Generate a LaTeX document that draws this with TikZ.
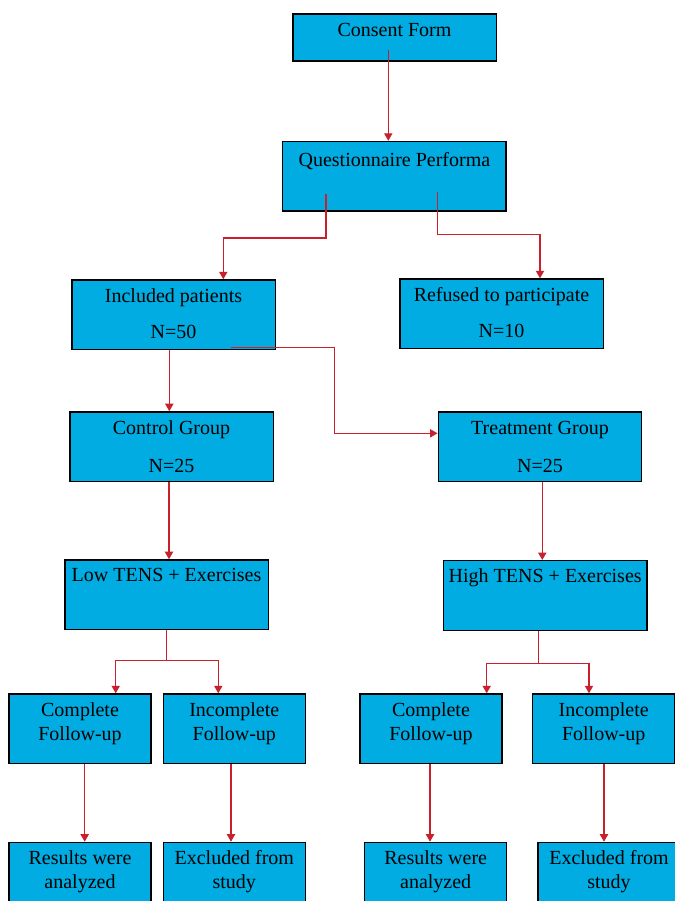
\documentclass[tikz,border=0pt]{standalone}
\usepackage{fontspec}
\setmainfont{Liberation Serif}
\usetikzlibrary{arrows.meta,calc}
\definecolor{boxblue}{RGB}{0,172,226}
\definecolor{flowred}{RGB}{200,32,44}
\tikzset{
  box/.style={draw=black, line width=1.1pt, fill=boxblue, inner sep=0pt,
    minimum width=152.6pt, minimum height=52.2pt},
  smallbox/.style={box, minimum width=106.5pt},
  txt/.style={anchor=base, align=center, inner sep=0pt,
    font=\fontsize{15}{17.5}\selectfont},
  flow/.style={draw=flowred, line width=0.8pt, -{Triangle[width=6.2pt,length=5.6pt]}}
}
\begin{document}
\begin{tikzpicture}[x=0.75pt, y=-0.75pt]
    \useasboundingbox[fill=white] (0,0) rectangle (675,901);

    % Screening
    \node[box, minimum height=35.2pt] (consent) at (394.5,37.5) {};
    \node[txt] (consent-t) at (394.5,36) {Consent Form};
    \node[box, minimum width=167.6pt] (quest) at (394.2,176.3) {};
    \node[txt] (quest-t) at (394.4,166) {Questionnaire Performa};

    % Enrolment (base = last line)
    \node[box] (incl) at (173.5,314.8) {};
    \node[txt] (incl-t) at (173.5,338) {Included patients\\[8.8pt]N=50};
    \node[box] (refused) at (501.5,313.8) {};
    \node[txt] (refused-t) at (501.5,337.3) {Refused to participate\\[9.7pt]N=10};

    % Allocation
    \node[box] (control) at (171.5,446.7) {};
    \node[txt] (control-t) at (171.5,472) {Control Group\\[11pt]N=25};
    \node[box] (treat) at (540,446.7) {};
    \node[txt] (treat-t) at (540,472.7) {Treatment Group\\[11.5pt]N=25};

    % Intervention
    \node[box] (low) at (166.5,594.7) {};
    \node[txt] (low-t) at (166.5,581.7) {Low TENS + Exercises};
    \node[box] (high) at (545.2,595.5) {};
    \node[txt] (high-t) at (545.2,582.7) {High TENS + Exercises};

    % Follow-up
    \node[smallbox] (compL) at (80,728.8) {};
    \node[txt] (compL-t) at (80,740) {Complete\\Follow-up};
    \node[smallbox] (incL) at (234.3,728.8) {};
    \node[txt] (incL-t) at (234.3,740) {Incomplete\\Follow-up};
    \node[smallbox] (compR) at (431,728.8) {};
    \node[txt] (compR-t) at (431,740) {Complete\\Follow-up};
    \node[smallbox] (incR) at (603.7,728.8) {};
    \node[txt] (incR-t) at (603.7,740) {Incomplete\\Follow-up};

    % Analysis
    \node[smallbox] (resL) at (80,877.2) {};
    \node[txt] (resL-t) at (80,888.3) {Results were\\analyzed};
    \node[smallbox] (exL) at (234.3,877.2) {};
    \node[txt] (exL-t) at (234.3,888.3) {Excluded from\\study};
    \node[smallbox] (resR) at (435.7,877.2) {};
    \node[txt] (resR-t) at (435.7,888.3) {Results were\\analyzed};
    \node[smallbox] (exR) at (609,877.2) {};
    \node[txt] (exR-t) at (609,888.3) {Excluded from\\study};

    % Connectors
    \draw[flow] ($(consent)+(-6.2,12.5)$) coordinate (c0) -- (c0 |- quest.north);
    \draw[flow] ($(quest)+(-68.2,18)$) |- ($(incl.north)+(49.8,-41.3)$) -- ($(incl.north)+(49.8,0)$);
    \draw[flow] ($(quest)+(43.1,15.4)$) |- ($(refused.north)+(38.5,-43.6)$) -- ($(refused.north)+(38.5,0)$);
    \draw[flow] ($(incl.south)+(-4.2,0)$) coordinate (c1) -- (c1 |- control.north);
    \draw[flow] ($(incl)+(57.5,32.5)$) -| ($(treat.west)+(-103,-13.4)$) -- ($(treat.west)+(0,-13.4)$);
    \draw[flow] ($(control.south)+(-2.5,0)$) coordinate (c2) -- (c2 |- low.north);
    \draw[flow] ($(treat.south)+(2.3,0)$) coordinate (c3) -- (c3 |- high.north);

    \coordinate (lowsplit) at ($(low.south)+(0.2,30.7)$);
    \draw[flow] ($(low.south)+(0.2,0)$) -- (lowsplit) -| ($(compL.north)+(35.7,0)$);
    \draw[flow] (lowsplit) -| ($(incL.north)+(-16,0)$);
    \coordinate (highsplit) at ($(high.south)+(-6.9,32.3)$);
    \draw[flow] ($(high.south)+(-6.9,0)$) -- (highsplit) -| ($(compR.north)+(55.7,0)$);
    \draw[flow] (highsplit) -| ($(incR.north)+(-14.7,0)$);

    \draw[flow] ($(compL.south)+(4.7,0)$) coordinate (c4) -- (c4 |- resL.north);
    \draw[flow] ($(incL.south)+(-3.3,0)$) coordinate (c5) -- (c5 |- exL.north);
    \draw[flow] ($(compR.south)+(-1,0)$) coordinate (c6) -- (c6 |- resR.north);
    \draw[flow] ($(incR.south)+(0.3,0)$) coordinate (c7) -- (c7 |- exR.north);
\end{tikzpicture}
\end{document}
